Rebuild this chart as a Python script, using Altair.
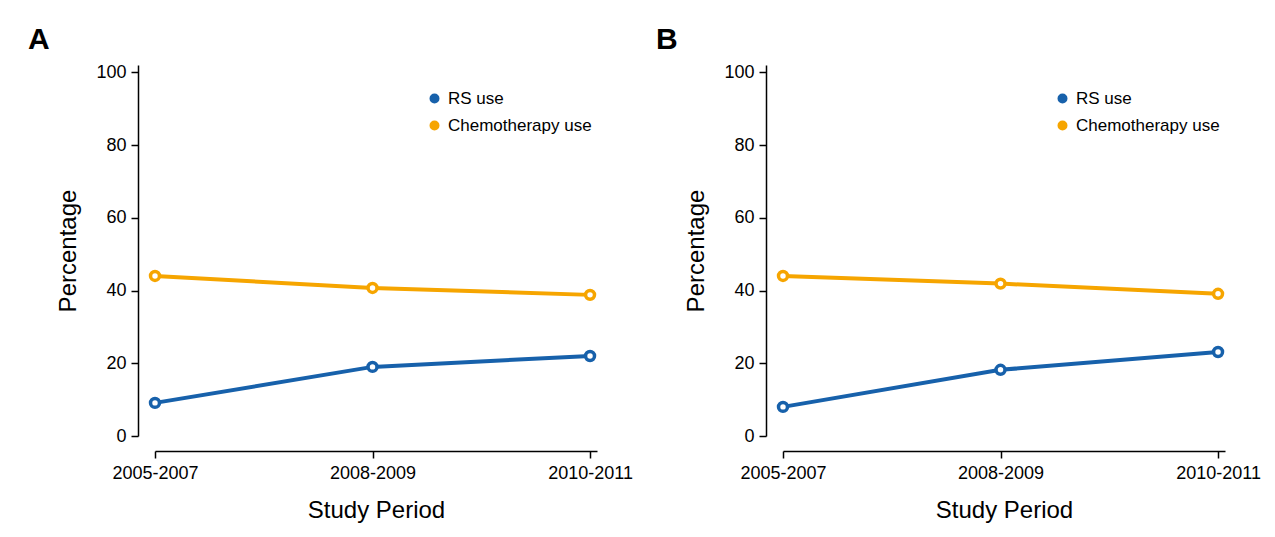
import json
import altair as alt
import pandas as pd

periods = ["2005-2007", "2008-2009", "2010-2011"]
series = ["RS use", "Chemotherapy use"]
panel_a_rs = [9.1, 19.0, 22.0]
panel_a_chemo = [44.0, 40.7, 38.8]
panel_b_rs = [8.0, 18.2, 23.1]
panel_b_chemo = [44.0, 41.9, 39.1]
y_ticks = [0, 20, 40, 60, 80, 100]

BLUE = "#1761ab"
ORANGE = "#f6a500"
FONT = "Liberation Sans"


def make_df(rs, chemo):
    rows = []
    for i, p in enumerate(periods):
        rows.append({"idx": i, "period": p, "series": series[0], "value": rs[i]})
        rows.append({"idx": i, "period": p, "series": series[1], "value": chemo[i]})
    return pd.DataFrame(rows)


label_expr = json.dumps(periods) + "[datum.value]"


def panel(df, letter):
    x = alt.X(
        "idx:Q",
        scale=alt.Scale(domain=[0, 2.032], nice=False, zero=False),
        axis=alt.Axis(
            values=[0, 1, 2],
            labelExpr=label_expr,
            title="Study Period",
            grid=False,
            offset=15,
            tickSize=7,
            labelPadding=6,
            labelFontSize=18,
            labelFont=FONT,
            labelColor="black",
            titleFont=FONT,
            titleFontSize=24,
            titleFontWeight="normal",
            titleColor="black",
            titlePadding=16,
            domainColor="black",
            tickColor="black",
            domainWidth=1.5,
            tickWidth=1.5,
            labelFlush=False,
        ),
    )
    y = alt.Y(
        "value:Q",
        scale=alt.Scale(domain=[0, 102], nice=False),
        axis=alt.Axis(
            values=y_ticks,
            title="Percentage",
            grid=False,
            offset=17,
            tickSize=7,
            labelPadding=5,
            labelFontSize=18,
            labelFont=FONT,
            labelColor="black",
            titleFont=FONT,
            titleFontSize=24,
            titleFontWeight="normal",
            titleColor="black",
            titlePadding=15,
            domainColor="black",
            tickColor="black",
            domainWidth=1.5,
            tickWidth=1.5,
        ),
    )
    color = alt.Color(
        "series:N",
        scale=alt.Scale(domain=series, range=[BLUE, ORANGE]),
        legend=alt.Legend(
            title=None,
            orient="none",
            legendX=271,
            legendY=25,
            symbolType="circle",
            symbolSize=25,
            symbolStrokeWidth=5,
            labelFont=FONT,
            labelFontSize=17,
            labelColor="black",
            labelOffset=5,
            rowPadding=2,
            padding=0,
        ),
    )
    base = alt.Chart(df).encode(x=x, y=y, color=color, detail="series:N")
    line = base.mark_line(strokeWidth=4)
    pts = base.mark_point(
        shape="circle", size=80, filled=False, fill="white", fillOpacity=1, strokeWidth=3.5, opacity=1
    )
    return (line + pts).properties(
        width=442,
        height=371,
        title=alt.TitleParams(
            letter,
            anchor="start",
            frame="group",
            dx=-127,
            offset=-16,
            fontSize=30,
            fontWeight="bold",
            font=FONT,
            color="black",
            baseline="alphabetic",
        ),
    )


chart_a = panel(make_df(panel_a_rs, panel_a_chemo), "A")
chart_b = panel(make_df(panel_b_rs, panel_b_chemo), "B")

chart = (
    alt.hconcat(chart_a, chart_b, spacing=23)
    .resolve_scale(color="independent")
    .resolve_legend(color="independent")
    .properties(padding={"left": 20, "top": 17, "right": 0, "bottom": 5}, background="white")
    .configure_view(stroke=None)
)

chart.save("out.html", embed_options={"renderer": "svg", "actions": False})
